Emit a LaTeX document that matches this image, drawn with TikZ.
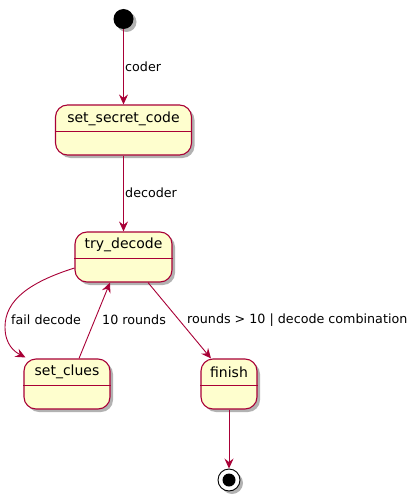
\documentclass[tikz,border=0pt]{standalone}
\usepackage{fontspec}
\setmainfont{DejaVu Sans}
\usetikzlibrary{shadows,calc,arrows.meta}
\definecolor{pborder}{HTML}{A80036}
\definecolor{pfill}{HTML}{FEFECE}
\tikzset{
  pshadow/.style={drop shadow={shadow xshift=3pt,shadow yshift=-3pt,opacity=0.3,fill=black}},
  statebox/.style={draw=pborder,fill=pfill,line width=1.1pt,rounded corners=12pt,inner sep=0pt,pshadow},
  sname/.style={font=\fontsize{14}{16}\selectfont,inner sep=0pt},
  elabel/.style={font=\fontsize{12.7}{15}\selectfont,inner sep=0pt,anchor=west},
  sep/.style={draw=pborder,line width=1pt},
  arr/.style={draw=pborder,line width=0.9pt,-{Stealth[length=10pt,width=9pt,inset=3.5pt]}},
}
\begin{document}
\begin{tikzpicture}[x=1pt,y=-1pt]
\useasboundingbox (0,0) rectangle (418,500);
% start
\node[circle,fill=black,minimum size=20pt,inner sep=0pt,pshadow] (start) at (123.5,19) {};
% states
\node[statebox,minimum width=136pt,minimum height=50pt] (ssc) at (123.5,130) {};
\node[sname] (sscname) at (123.5,118.5) {set\_secret\_code};
\draw[sep] (ssc.west |- 0,131) -- (ssc.east |- 0,131);

\node[statebox,minimum width=97pt,minimum height=50pt] (try) at (123.5,257) {};
\node[sname] (tryname) at (123.5,245) {try\_decode};
\draw[sep] (try.west |- 0,258) -- (try.east |- 0,258);

\node[statebox,minimum width=86pt,minimum height=50pt] (clues) at (67,384) {};
\node[sname] (cluesname) at (67,372) {set\_clues};
\draw[sep] (clues.west |- 0,385) -- (clues.east |- 0,385);

\node[statebox,minimum width=56pt,minimum height=50pt] (finish) at (229,384) {};
\node[sname] (finishname) at (229,372) {finish};
\draw[sep] (finish.west |- 0,385) -- (finish.east |- 0,385);

% end
\node[circle,draw=black,fill=white,line width=0.9pt,minimum size=22pt,inner sep=0pt,pshadow] (end) at (229,480) {};
\node[circle,fill=black,minimum size=13pt,inner sep=0pt] (endin) at (end) {};

% edges
\draw[arr] (start) -- (ssc.north);
\node[elabel] (lcoder) at (125,67) {coder};
\draw[arr] (ssc.south) -- (try.north);
\node[elabel] (ldecoder) at (125,193) {decoder};

\coordinate (fdA) at ($(try.west)+(0,11)$);
\coordinate (fdB) at ($(clues.north west)+(2,-1)$);
\draw[arr] (fdA) .. controls (30,282) and (5,300) .. (5,327) .. controls (5,345) and (15,352) .. (fdB);
\node[elabel] (lfail) at (11,320) {fail decode};

\draw[arr] ($(clues.north)+(12,0)$) -- ($(try.south)+(-13.5,0)$);
\node[elabel] (lten) at (102,320) {10 rounds};

\draw[arr] ($(try.south)+(24.5,0)$) -- ($(finish.north)+(-18,0)$);
\node[elabel] (lrounds) at (187,320) {rounds > 10 | decode combination};

\draw[arr] (finish.south) -- (end.north);
\end{tikzpicture}
\end{document}
